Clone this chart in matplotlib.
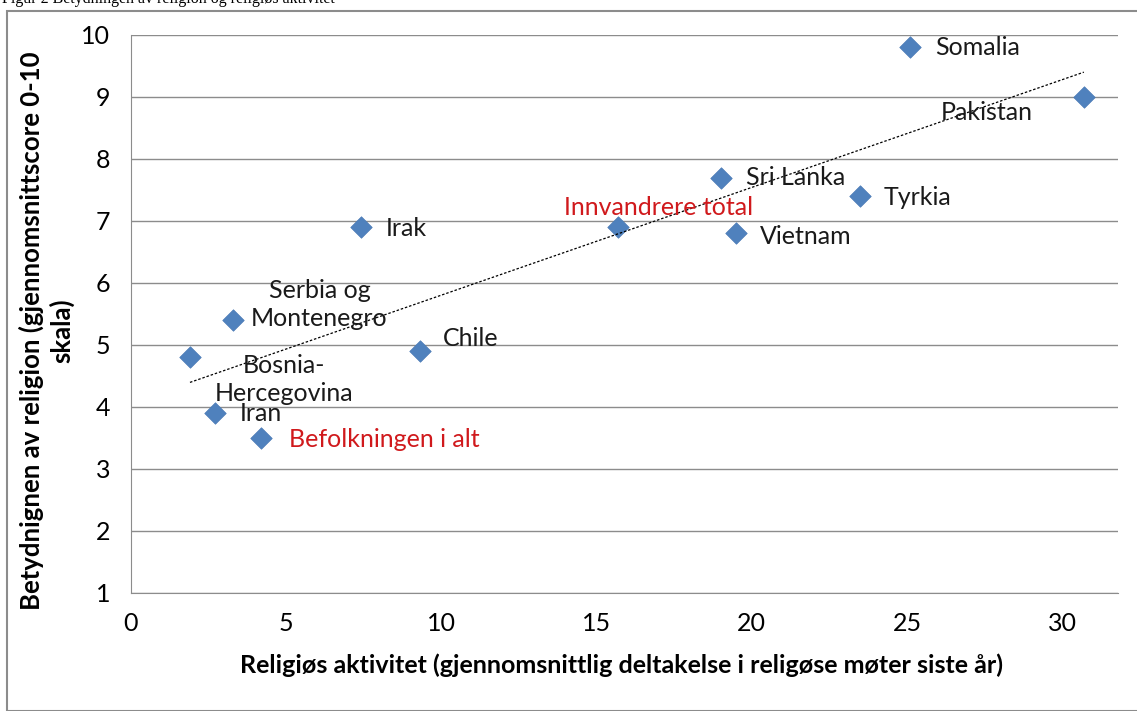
import numpy as np
import matplotlib
matplotlib.use("Agg")
import matplotlib.pyplot as plt
from matplotlib.patches import Rectangle

plt.rcParams['font.family'] = ['Lato', 'DejaVu Sans']

# DATA
countries = ["Somalia", "Pakistan", "Sri Lanka", "Tyrkia", "Vietnam",
             "Innvandrere total", "Irak", "Serbia og\nMontenegro",
             "Bosnia-\nHercegovina", "Chile", "Iran", "Befolkningen i alt"]
activity = [25.1, 30.7, 19.0, 23.5, 19.5, 15.7, 7.4, 3.3, 1.9, 9.3, 2.7, 4.2]
importance = [9.8, 9.0, 7.7, 7.4, 6.8, 6.9, 6.9, 5.4, 4.8, 4.9, 3.9, 3.5]

# label offsets in points (dx, dy) and alignment
offsets = {
    "Somalia": (18, 0, "left"),
    "Pakistan": (-70, -11, "center"),
    "Sri Lanka": (18, 0, "left"),
    "Tyrkia": (17, -1, "left"),
    "Vietnam": (17, -2, "left"),
    "Innvandrere total": (29, 14, "center"),
    "Irak": (18, -1, "left"),
    "Serbia og\nMontenegro": (62, 11.5, "center"),
    "Bosnia-\nHercegovina": (68, -16, "center"),
    "Chile": (17, 9, "left"),
    "Iran": (18, 0, "left"),
    "Befolkningen i alt": (20, -1, "left"),
}
red_labels = ["Innvandrere total", "Befolkningen i alt"]

fig = plt.figure(figsize=(11.37, 7.11), dpi=100)
ax = fig.add_axes([131/1137, 1 - 593/711, (1118-131)/1137, (593-35)/711])

# outer frame of the chart
fig.patches.append(Rectangle((7/1137, 0), 1.2, 1 - 11/711, transform=fig.transFigure,
                             fill=False, edgecolor="#8c8c8c", linewidth=1.5))
fig.text(2/1137, 1 - 3/711, "Figur 2 Betydningen av religion og religiøs aktivitet",
         family="Liberation Serif", fontsize=11.5, va="baseline", ha="left")

ax.scatter(activity, importance, marker="D", s=120, color="#4f81bd",
           edgecolor="#4a7ab5", linewidth=0.5, zorder=3)

# linear trend line
k, m = np.polyfit(activity, importance, 1)
xs = np.array([min(activity), max(activity)])
ax.plot(xs, k * xs + m, color="black", linestyle=(0, (2, 1.5)), linewidth=0.9, zorder=4)

for name, x, y in zip(countries, activity, importance):
    dx, dy, ha = offsets[name]
    col = "#d0191c" if name in red_labels else "#1a1a1a"
    ax.annotate(name, (x, y), xytext=(dx, dy), textcoords="offset points",
                ha=ha, va="center", multialignment="center", fontsize=18,
                color=col, linespacing=1.25, zorder=5)

ax.set_xlim(0, 31.8)
ax.set_ylim(1, 10)
ax.set_xticks(range(0, 31, 5))
ax.set_yticks(range(1, 11))
ax.yaxis.grid(True, color="#8c8c8c", linewidth=1)
ax.set_axisbelow(True)
for s in ["top", "right"]:
    ax.spines[s].set_visible(False)
for s in ["left", "bottom"]:
    ax.spines[s].set_color("#8c8c8c")
ax.tick_params(length=0, labelsize=18)
ax.tick_params(axis="y", pad=15)
ax.tick_params(axis="x", pad=14)

ax.set_xlabel("Religiøs aktivitet (gjennomsnittlig deltakelse i religøse møter siste år)",
              fontsize=18, fontweight="bold")
ax.xaxis.set_label_coords(0.497, -0.108)
ax.set_ylabel("Betydnignen av religion (gjennomsnittscore 0-10\nskala)",
              fontsize=18.5, fontweight="bold", linespacing=1.25)
ax.yaxis.set_label_coords(-0.057, 0.47)

fig.savefig("out.png", dpi=100)
